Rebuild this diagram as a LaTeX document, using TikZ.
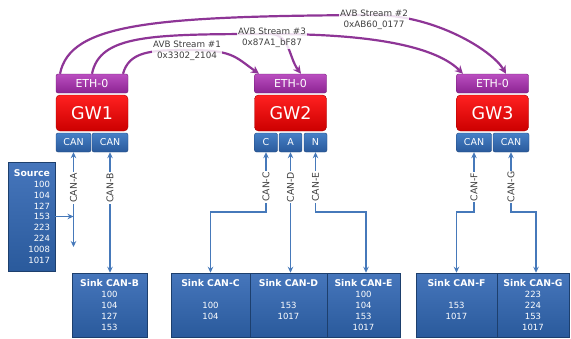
\documentclass[tikz,border=0pt]{standalone}
\usepackage{fontspec}
\setmainfont{DejaVu Sans}
\usetikzlibrary{arrows.meta}
\definecolor{avb}{HTML}{8E3596}
\definecolor{bluetop}{HTML}{4680C6}
\definecolor{bluebot}{HTML}{2A5A9C}
\definecolor{sinktop}{HTML}{4676BC}
\definecolor{blueline}{HTML}{4679BA}
\definecolor{ethtop}{HTML}{BA4EC0}
\definecolor{ethbot}{HTML}{8C2492}
\definecolor{redtop}{HTML}{FF2020}
\definecolor{redbot}{HTML}{CC0000}
\definecolor{lbl}{HTML}{404040}
\newcommand\boxhead[1]{{\fontsize{9.3}{11}\selectfont\bfseries #1}}
\tikzset{
 ethbox/.style={draw=ethbot!80!black, line width=0.4pt, top color=ethtop, bottom color=ethbot, rounded corners=2pt, minimum width=72pt, minimum height=19pt, text=white, font=\fontsize{11}{13}\selectfont, inner sep=0pt},
 gwbox/.style={draw=redbot!80!black, line width=0.4pt, top color=redtop, bottom color=redbot, rounded corners=4pt, minimum width=72pt, minimum height=36pt, text=white, font=\fontsize{17.5}{20}\selectfont, inner sep=0pt},
 canbox/.style={draw=bluebot!80!black, line width=0.4pt, top color=bluetop, bottom color=bluebot, rounded corners=2pt, minimum height=19pt, text=white, font=\fontsize{9.5}{11}\selectfont, inner sep=0pt},
 sinkbox/.style={draw=bluebot!70!black, line width=0.5pt, top color=sinktop, bottom color=bluebot, minimum height=64pt, text=white, align=center, font=\fontsize{8.5}{11}\selectfont, inner sep=0pt},
 stream/.style={avb, line width=2.2pt, -{Stealth[length=8pt,width=8pt]}},
 streamlbl/.style={fill=white, fill opacity=0.85, text opacity=1, text=lbl, align=center, font=\fontsize{8.8}{11}\selectfont, inner sep=1pt},
 link/.style={blueline, line width=1.8pt, {Stealth[length=6pt,width=5.5pt]}-{Stealth[length=6pt,width=5.5pt]}},
 feed/.style={blueline, line width=1.8pt, -{Stealth[length=6pt,width=5.5pt]}},
 canlbl/.style={fill=white, text=lbl, rotate=90, font=\fontsize{9.3}{10}\selectfont, inner sep=1pt},
}
\begin{document}
\begin{tikzpicture}[x=1pt,y=-1pt]
\useasboundingbox (0,0) rectangle (571,338);
% gateways
\node[ethbox] (eth1) at (92,83.5) {ETH-0};
\node[gwbox] (gw1) at (92,113) {GW1};
\node[canbox, minimum width=35pt] (c1a) at (73.5,142.5) {CAN};
\node[canbox, minimum width=36pt] (c1b) at (110,142.5) {CAN};
\node[ethbox] (eth2) at (290.5,83.5) {ETH-0};
\node[gwbox] (gw2) at (290.5,113) {GW2};
\node[canbox, minimum width=23pt] (c2c) at (266,142.5) {C};
\node[canbox, minimum width=23pt] (c2a) at (290.5,142.5) {A};
\node[canbox, minimum width=23pt] (c2n) at (315.5,142.5) {N};
\node[ethbox] (eth3) at (492.5,83.5) {ETH-0};
\node[gwbox] (gw3) at (492.5,113) {GW3};
\node[canbox, minimum width=35pt] (c3a) at (474,142.5) {CAN};
\node[canbox, minimum width=36pt] (c3b) at (511,142.5) {CAN};
% source and sinks
\node[sinkbox, minimum width=47pt, minimum height=109pt, text width=37pt, inner xsep=5pt, align=right, font=\fontsize{8.5}{10.8}\selectfont] (src) at (31.5,216.5)
 {\boxhead{Source}\\100\\104\\127\\153\\223\\224\\1008\\1017};
\node[sinkbox, minimum width=75pt] (sB) at (109.5,305) {\boxhead{Sink CAN-B}\\100\\104\\127\\153};
\node[sinkbox, minimum width=79pt] (sC) at (210.5,305) {\boxhead{Sink CAN-C}\\~\\100\\104\\~};
\node[sinkbox, minimum width=77pt] (sD) at (288.5,305) {\boxhead{Sink CAN-D}\\~\\153\\1017\\~};
\node[sinkbox, minimum width=73pt] (sE) at (363.5,305) {\boxhead{Sink CAN-E}\\100\\104\\153\\1017};
\node[sinkbox, minimum width=81pt] (sF) at (456.5,305) {\boxhead{Sink CAN-F}\\~\\153\\1017\\~};
\node[sinkbox, minimum width=72pt] (sG) at (533,305) {\boxhead{Sink CAN-G}\\223\\224\\153\\1017};
% CAN links
\coordinate (aend) at (73.5,247);
\draw[link] (c1a.south) -- (aend);
\draw[feed] (src.east) -- (c1a.south |- src.east);
\draw[link] (c1b.south) -- (c1b.south |- sB.north);
\draw[link] (c2c.south) -- ++(0,60) -| (sC.north);
\draw[link] (c2a.south) -- (c2a.south |- sD.north);
\draw[link] (c2n.south) -- ++(0,60) -| ([xshift=2.5pt]sE.north);
\draw[link] (c3a.south) -- ++(0,60) -| (sF.north);
\draw[link] (c3b.south) -- ++(0,60) -| ([xshift=3pt]sG.north);
\node[canlbl] (lA) at (73.5,188) {CAN-A};
\node[canlbl] (lB) at (110,188) {CAN-B};
\node[canlbl] (lC) at (266,187) {CAN-C};
\node[canlbl] (lD) at (290.5,187) {CAN-D};
\node[canlbl] (lE) at (315.5,187) {CAN-E};
\node[canlbl] (lF) at (474,187) {CAN-F};
\node[canlbl] (lG) at (511,187) {CAN-G};
% AVB streams
\coordinate (p1) at (187,50);
\coordinate (p3) at (272,34);
\coordinate (p2) at (374,15);
\draw[stream] ([xshift=31pt]eth1.north) .. controls +(6,-22) and +(-37,0) .. (p1) .. controls +(45,0) and +(-25,-18) .. ([xshift=-31.5pt]eth2.north);
\draw[stream] (eth1.north) .. controls +(8,-39) and +(-122,0) .. (p3) .. controls +(120,0) and +(-22,-22) .. ([xshift=-29.5pt]eth3.north);
\draw[stream] (p3) .. controls +(18,2) and +(-12,-16) .. ([xshift=10.5pt]eth2.north);
\draw[stream] ([xshift=-32pt]eth1.north) .. controls +(10,-50) and +(-224,1) .. (p2) .. controls +(60,0) and +(-14,-24) .. ([xshift=13.5pt]eth3.north);
\node[streamlbl] (t1) at ([yshift=-0.5pt]p1) {AVB Stream \#1\\0x3302\_2104};
\node[streamlbl] (t3) at ([yshift=-4pt]p3) {AVB Stream \#3\\0x87A1\_bF87};
\node[streamlbl] (t2) at ([yshift=-5pt]p2) {AVB Stream \#2\\0xAB60\_0177};
\end{tikzpicture}
\end{document}
